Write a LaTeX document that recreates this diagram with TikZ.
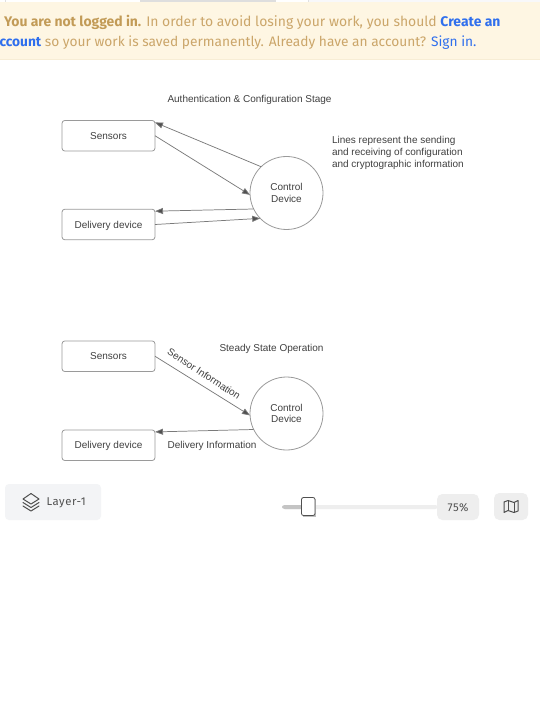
\documentclass[tikz,border=0pt]{standalone}
\usepackage{fontspec}
\setmainfont{Liberation Sans}
\newfontfamily\uifont{Fira Sans}
\newfontfamily\chipfont[LetterSpace=5]{Fira Sans}
\usetikzlibrary{arrows.meta}
\definecolor{bannerbg}{HTML}{FEF6E3}
\definecolor{bannerline}{HTML}{F7EDD5}
\definecolor{bannertxt}{HTML}{CBA66A}
\definecolor{bannerbold}{HTML}{C29B57}
\definecolor{linkblue}{HTML}{2F6FED}
\definecolor{lineg}{HTML}{7A7A7A}
\definecolor{boxg}{HTML}{9A9A9A}
\definecolor{txtg}{HTML}{404040}
\definecolor{panelg}{HTML}{F3F4F6}
\definecolor{chipg}{HTML}{EEEEEE}
\definecolor{icong}{HTML}{505050}
\tikzset{
  x=0.75pt,y=-0.75pt,
  boxn/.style={draw=boxg,line width=0.6pt,rounded corners=2.2pt,minimum width=69.75pt,minimum height=23pt,inner sep=0pt,outer sep=0pt,text height=7pt,text depth=1.4pt,font=\fontsize{7.5pt}{9pt}\selectfont,text=txtg},
  circn/.style={draw=boxg,line width=0.6pt,circle,minimum size=54.75pt,inner sep=0pt,outer sep=0pt,align=center,font=\fontsize{7.5pt}{8.8pt}\selectfont,text=txtg},
  lab/.style={inner sep=0pt,outer sep=0pt,font=\fontsize{7.5pt}{8.8pt}\selectfont,text=txtg,align=left},
  conn/.style={draw=lineg,line width=0.55pt,-{Triangle[length=6pt,width=4.5pt,fill=icong]}},
  bantxt/.style={inner sep=0pt,outer sep=0pt,font=\uifont\fontsize{10.45pt}{13pt}\selectfont,text=bannertxt},
  bantxtb/.style={inner sep=0pt,outer sep=0pt,font=\uifont\fontsize{10.3pt}{13pt}\selectfont,text=bannertxt},
  ui/.style={inner sep=0pt,outer sep=0pt,font=\chipfont\fontsize{8.5pt}{10pt}\selectfont,text=icong},
  icon/.style={draw=icong,line width=0.75pt,line join=round,line cap=round}
}
\begin{document}
\begin{tikzpicture}
\useasboundingbox (0,0) rectangle (540,720);
\fill[white] (0,0) rectangle (540,720);
% top strip
\fill[panelg!60] (308,0) rectangle (540,2);
\fill[black!13] (140,0) rectangle (276,2);
\draw[black!12,line width=0.4pt] (5,0) -- (5,2) (308,0) -- (308,2);
% banner
\fill[bannerbg] (0,2) rectangle (540,59.5);
\draw[bannerline,line width=0.6pt] (0,59.5) -- (540,59.5);
\node[bantxt,anchor=base west] (b1) at (4,27) {\textbf{\textcolor{bannerbold}{You are not logged in.}} In order to avoid losing your work, you should \textbf{\textcolor{linkblue}{Create an}}};
\node[bantxtb,anchor=base west] (b2) at (-8,46.7) {\textbf{\textcolor{linkblue}{account}} so your work is saved permanently. Already have an account? \textcolor{linkblue}{Sign in.}};
% upper diagram
\node[lab,anchor=center] (t1) at (249.5,99.5) {Authentication \& Configuration Stage};
\node[boxn] (s1) at (108.5,135.75) {Sensors};
\node[boxn] (d1) at (108.5,224.5) {Delivery device};
\node[circn] (c1) at (286.5,193) {Control\\Device};
\node[lab,anchor=north west] (n1) at (332,136.5) {Lines represent the sending\\and receiving of configuration\\and cryptographic information};
\draw[conn] (c1.134) -- (s1.16.5);
\draw[conn] (s1.east) -- (c1.183);
\draw[conn] (c1.206) -- (d1.16.7);
\draw[conn] (d1.east) -- (c1.224);
% lower diagram
\node[lab,anchor=center] (t2) at (271.5,348.5) {Steady State Operation};
\node[boxn] (s2) at (108.5,356.25) {Sensors};
\node[boxn] (d2) at (108.5,445.25) {Delivery device};
\node[circn] (c2) at (286.5,413.5) {Control\\Device};
\draw[conn] (s2.east) -- (c2.183);
\draw[conn] (c2.206) -- (d2.16.7);
\node[lab,anchor=center,rotate=-33] (l1) at (204,374) {Sensor Information};
\node[lab,anchor=center] (l2) at (212,446) {Delivery Information};
% layer chip
\fill[panelg,rounded corners=3pt] (5,484) rectangle (101,520);
\draw[icon] (31,493.5) -- (39,499) -- (31,504) -- (23,499) -- cycle;
\draw[icon] (23,502.5) -- (31,507.5) -- (39,502.5);
\draw[icon] (23,506) -- (31,511) -- (39,506);
\node[ui,anchor=west] (layer) at (46.5,502.5) {Layer-1};
% slider
\fill[chipg,rounded corners=2pt] (282,505) rectangle (438,509);
\fill[black!23,rounded corners=2pt] (282,505) rectangle (308,509);
\fill[black!25] (302.5,498.5) rectangle (316,517);
\draw[icong,fill=white,line width=0.6pt,rounded corners=1.5pt] (301.5,497.5) rectangle (315,515.5);
% zoom chip
\fill[chipg,rounded corners=4pt] (437,494) rectangle (479,520);
\node[ui,anchor=center] (zoom) at (458,507.5) {75\%};
% map chip
\fill[chipg,rounded corners=4pt] (494,493) rectangle (528,520);
\draw[icon] (504,502) -- (508,500.5) -- (514,502.5) -- (518,500.5) -- (518,511) -- (514,512.5) -- (508,510.5) -- (504,512.5) -- cycle;
\draw[icon] (508,500.5) -- (508,510.5) (514,502.5) -- (514,512.5);
\end{tikzpicture}
\end{document}
